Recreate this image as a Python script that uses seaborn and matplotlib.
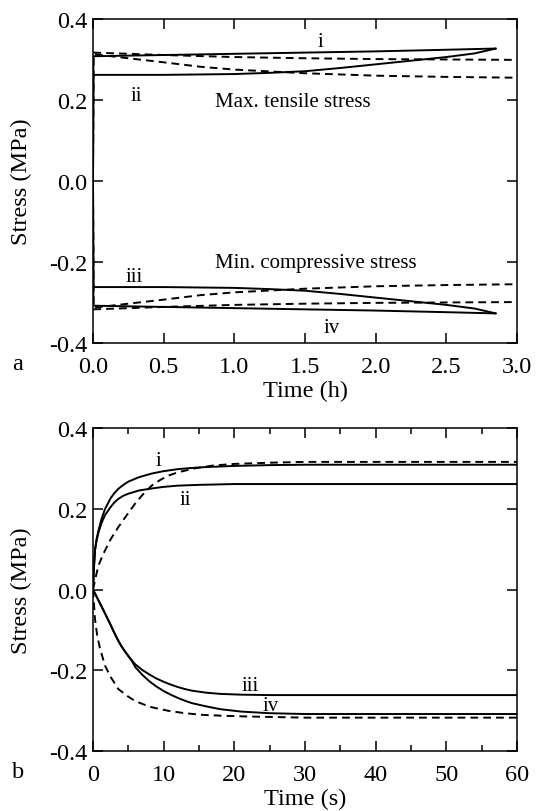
import numpy as np
import pandas as pd
import matplotlib
matplotlib.use("Agg")
import matplotlib.pyplot as plt
from matplotlib.ticker import MultipleLocator, FormatStrFormatter
import seaborn as sns

# ---------------- data: panel a (time in hours) ----------------
t_i_h = [0.0, 0.003, 0.5, 1.0, 1.5, 2.0, 2.5, 2.85]
s_i_h = [0.0, 0.308, 0.311, 0.314, 0.317, 0.320, 0.324, 0.327]
t_ii_h = [0.0, 0.003, 0.5, 1.0, 1.25, 1.5, 1.75, 2.0, 2.25, 2.5, 2.7, 2.85]
s_ii_h = [0.0, 0.262, 0.262, 0.264, 0.267, 0.271, 0.279, 0.288, 0.297, 0.306, 0.315, 0.327]
t_du_h = [0.0, 0.003, 0.5, 1.0, 1.5, 2.0, 2.5, 3.0]
s_du_h = [0.0, 0.317, 0.311, 0.306, 0.303, 0.301, 0.300, 0.299]
t_dl_h = [0.0, 0.003, 0.25, 0.5, 0.76, 1.0, 1.5, 2.0, 2.5, 3.0]
s_dl_h = [0.0, 0.313, 0.303, 0.293, 0.282, 0.275, 0.266, 0.260, 0.257, 0.255]
# compressive side (mirror of tensile side)
s_iii_h = [-v for v in s_ii_h]
s_iv_h = [-v for v in s_i_h]
s_dcu_h = [-v for v in s_dl_h]
s_dcl_h = [-v for v in s_du_h]

# ---------------- data: panel b (time in seconds) ----------------
t_i_s = [0, 0.15, 0.3, 0.5, 0.75, 1.2, 1.7, 2.5, 3, 3.58, 4.3, 5, 6.5, 8.3, 10, 12,
         14, 15.8, 20, 25, 30, 60]
s_i_s = [0, 0.06, 0.10, 0.125, 0.145, 0.175, 0.200, 0.227, 0.239, 0.250, 0.260, 0.268,
         0.279, 0.288, 0.294, 0.299, 0.302, 0.304, 0.307, 0.309, 0.310, 0.310]
t_ii_s = [0, 0.15, 0.3, 0.5, 0.75, 1.2, 1.7, 2.5, 3, 3.58, 4.3, 5, 6.5, 8.3, 10, 12,
          15, 20, 60]
s_ii_s = [0, 0.06, 0.10, 0.12, 0.14, 0.165, 0.185, 0.205, 0.216, 0.225, 0.233, 0.238,
          0.246, 0.251, 0.255, 0.258, 0.260, 0.262, 0.262]
t_dt_s = [0, 0.75, 1.5, 2.5, 3.58, 4.5, 5.94, 7, 8.3, 9.5, 10.66, 12, 14.4, 17, 20,
          25, 30, 60]
s_dt_s = [0, 0.059, 0.09, 0.125, 0.155, 0.178, 0.213, 0.235, 0.258, 0.272, 0.283,
          0.291, 0.301, 0.308, 0.312, 0.315, 0.317, 0.317]
t_iii_s = [0, 0.5, 1, 1.5, 2, 2.5, 3, 3.58, 4, 4.5, 5, 5.5, 6, 7, 8, 9, 10, 11, 12,
           13, 14, 16, 18, 21, 25, 60]
s_iii_s = [0, -0.017, -0.035, -0.052, -0.070, -0.088, -0.107, -0.127, -0.140, -0.153,
           -0.165, -0.176, -0.186, -0.200, -0.211, -0.221, -0.229, -0.236, -0.242,
           -0.247, -0.251, -0.256, -0.259, -0.261, -0.262, -0.262]
t_iv_s = [0, 0.5, 1, 1.5, 2, 2.5, 3, 3.58, 4, 4.5, 5, 5.5, 6, 7, 8, 9, 10, 11, 12,
          13, 14, 16, 18, 21, 25, 30, 60]
s_iv_s = [0, -0.017, -0.035, -0.052, -0.070, -0.088, -0.107, -0.127, -0.140, -0.153,
          -0.165, -0.177, -0.193, -0.212, -0.228, -0.241, -0.252, -0.261, -0.269,
          -0.276, -0.282, -0.290, -0.297, -0.303, -0.307, -0.309, -0.309]
t_dc_s = [0, 0.28, 0.6, 1, 1.7, 2.5, 3.58, 5, 6, 8, 10.66, 13, 15.4, 18, 21.5, 30, 60]
s_dc_s = [0, -0.073, -0.115, -0.147, -0.189, -0.217, -0.247, -0.266, -0.277, -0.291,
          -0.301, -0.307, -0.311, -0.313, -0.315, -0.318, -0.318]

yticks = [-0.4, -0.2, 0.0, 0.2, 0.4]

# ---------------- style ----------------
sns.set_theme(style="ticks")
plt.rcParams["font.family"] = ["Liberation Serif", "DejaVu Serif"]
plt.rcParams["axes.unicode_minus"] = False
plt.rcParams["axes.edgecolor"] = "black"
plt.rcParams["axes.linewidth"] = 1.1
plt.rcParams["xtick.color"] = "black"
plt.rcParams["ytick.color"] = "black"
plt.rcParams["text.color"] = "black"
plt.rcParams["axes.labelcolor"] = "black"

FS = 17.5
AFS = 15
LW = 1.4
DASH = (0, (4, 2.6))

fig = plt.figure(figsize=(5.36, 8.12), dpi=100)
ax1 = fig.add_axes([0.1735, 0.5764, 0.7911, 0.3990])
ax2 = fig.add_axes([0.1735, 0.0743, 0.7911, 0.3968])


def line(ax, x, y, dashed=False):
    sns.lineplot(x=x, y=y, ax=ax, color="black", lw=LW,
                 linestyle=DASH if dashed else "-", sort=False,
                 estimator=None)


# panel a
line(ax1, t_i_h, s_i_h)
line(ax1, t_ii_h, s_ii_h)
line(ax1, t_du_h, s_du_h, True)
line(ax1, t_dl_h, s_dl_h, True)
line(ax1, t_ii_h, s_iii_h)
line(ax1, t_i_h, s_iv_h)
line(ax1, t_dl_h, s_dcu_h, True)
line(ax1, t_du_h, s_dcl_h, True)

# panel b
line(ax2, t_i_s, s_i_s)
line(ax2, t_ii_s, s_ii_s)
line(ax2, t_dt_s, s_dt_s, True)
line(ax2, t_iii_s, s_iii_s)
line(ax2, t_iv_s, s_iv_s)
line(ax2, t_dc_s, s_dc_s, True)

for ax in (ax1, ax2):
    ax.set_ylim(-0.4, 0.4)
    ax.set_yticks(yticks)
    ax.yaxis.set_major_formatter(FormatStrFormatter("%.1f"))
    ax.tick_params(which="major", direction="in", length=7, width=1.1,
                   top=True, right=True, labelsize=FS)
    ax.tick_params(which="minor", direction="in", length=4, width=1.1,
                   top=True, right=True)
    ax.tick_params(axis="y", which="major", pad=4)
    ax.tick_params(axis="x", which="major", pad=9.5)
    ax.set_ylabel("Stress (MPa)", fontsize=FS)
    ax.yaxis.set_label_coords(-0.143, 0.5)
    for s in ax.spines.values():
        s.set_visible(True)
        s.set_linewidth(1.1)

ax1.set_xlim(0, 3.0)
ax1.xaxis.set_major_locator(MultipleLocator(0.5))
ax1.xaxis.set_major_formatter(FormatStrFormatter("%.1f"))
ax1.set_xlabel("Time (h)", fontsize=FS)
ax1.xaxis.set_label_coords(0.5, -0.113)

ax2.set_xlim(0, 60)
ax2.xaxis.set_major_locator(MultipleLocator(10))
ax2.xaxis.set_minor_locator(MultipleLocator(5))
ax2.xaxis.set_major_formatter(FormatStrFormatter("%d"))
ax2.set_xlabel("Time (s)", fontsize=FS)
ax2.xaxis.set_label_coords(0.5, -0.114)

# annotations panel a
ax1.text(1.61, 0.344, "i", fontsize=AFS, ha="center", va="center")
ax1.text(0.31, 0.212, "ii", fontsize=AFS, ha="center", va="center")
ax1.text(0.86, 0.197, "Max. tensile stress", fontsize=AFS, ha="left", va="center")
ax1.text(0.86, -0.202, "Min. compressive stress", fontsize=AFS, ha="left", va="center")
ax1.text(0.29, -0.236, "iii", fontsize=AFS, ha="center", va="center")
ax1.text(1.69, -0.363, "iv", fontsize=AFS, ha="center", va="center")

# annotations panel b
ax2.text(9.2, 0.320, "i", fontsize=AFS, ha="center", va="center")
ax2.text(13.1, 0.224, "ii", fontsize=AFS, ha="center", va="center")
ax2.text(22.3, -0.238, "iii", fontsize=AFS, ha="center", va="center")
ax2.text(25.2, -0.288, "iv", fontsize=AFS, ha="center", va="center")

# panel letters
fig.text(18 / 536, 1 - 365 / 812, "a", fontsize=FS, ha="center", va="center")
fig.text(18 / 536, 1 - 773 / 812, "b", fontsize=FS, ha="center", va="center")

fig.savefig("out.png", dpi=100)
